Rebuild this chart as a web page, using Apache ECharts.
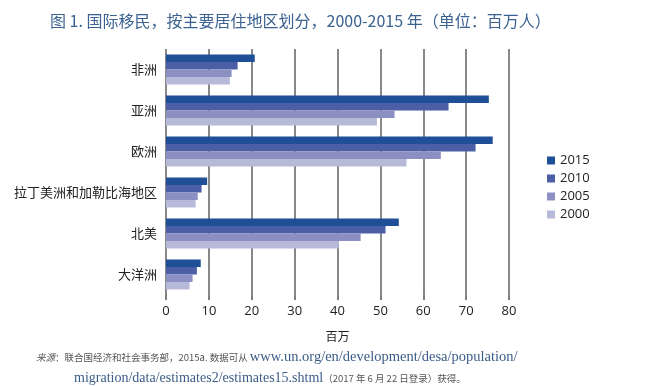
<!DOCTYPE html>
<html><head><meta charset="utf-8">
<script src="https://cdn.jsdelivr.net/npm/echarts@6/dist/echarts.min.js"></script>
<style>html,body{margin:0;padding:0;background:#fff}#c{width:663px;height:386px}</style>
</head><body><div id="c"></div>
<script>
const categories = ['非洲','亚洲','欧洲','拉丁美洲和加勒比海地区','北美','大洋洲'];
const years = ['2015','2010','2005','2000'];
const v2015 = [20.7, 75.3, 76.2, 9.6, 54.3, 8.1];
const v2010 = [16.7, 65.9, 72.2, 8.3, 51.2, 7.2];
const v2005 = [15.3, 53.3, 64.1, 7.4, 45.4, 6.2];
const v2000 = [14.9, 49.2, 56.1, 6.9, 40.3, 5.5];
const xTicks = [0,10,20,30,40,50,60,70,80];
const colors = ['#1f4f96','#4b5ea6','#8c8fc2','#b7b9d9'];
const values = [v2015, v2010, v2005, v2000];

const chart = echarts.init(document.getElementById('c'));
chart.setOption({
  animation: false,
  backgroundColor: '#fff',
  title: {
    text: '图 1. 国际移民，按主要居住地区划分，2000-2015 年（单位：百万人）',
    left: 45, top: 8,
    textStyle: {color: '#3b6290', fontSize: 16, fontWeight: 'normal', fontFamily: 'Noto Sans CJK SC'}
  },
  legend: {
    orient: 'vertical', left: 542, top: 149,
    itemWidth: 8, itemHeight: 8, itemGap: 5,
    icon: 'rect',
    textStyle: {fontSize: 13, color: '#222', fontFamily: 'Open Sans'},
    data: years
  },
  grid: {left: 166, right: 154, top: 49, bottom: 91, containLabel: false},
  xAxis: {
    type: 'value', min: xTicks[0], max: xTicks[xTicks.length-1], interval: 10,
    name: '百万', nameLocation: 'middle', nameGap: 35,
    nameTextStyle: {fontSize: 12, color: '#222', fontFamily: 'Noto Sans CJK SC'},
    axisLine: {show: false},
    axisTick: {show: true, length: 5, lineStyle: {color: '#555', width: 1.5}},
    axisLabel: {fontSize: 13, color: '#222', margin: 10, fontFamily: 'Open Sans'},
    splitLine: {show: true, lineStyle: {color: '#606060', width: 1.5}}
  },
  yAxis: {
    type: 'category', data: categories, inverse: true,
    axisLine: {show: false}, axisTick: {show: false},
    axisLabel: {fontSize: 13, color: '#222', margin: 9, fontFamily: 'Noto Sans CJK SC'}
  },
  series: years.map((y, i) => ({
    name: y, type: 'bar', data: values[i],
    itemStyle: {color: colors[i]},
    barGap: '0%', barCategoryGap: '27%'
  })),
  graphic: [
    {type: 'text', left: 36, top: 350, style: {
      rich: {
        a: {fontSize: 9.5, fontStyle: 'italic', fill: '#555', fontFamily: 'Noto Sans CJK SC'},
        b: {fontSize: 9.5, fill: '#555', fontFamily: 'Noto Sans CJK SC'},
        u: {fontSize: 14.5, fill: '#3b5c86', fontFamily: 'Liberation Serif'}
      },
      text: '{a|来源}{b|：联合国经济和社会事务部，2015a. 数据可从 }{u|www.un.org/en/development/desa/population/}'
    }},
    {type: 'text', left: 74, top: 371, style: {
      rich: {
        b: {fontSize: 9.5, fill: '#555', fontFamily: 'Noto Sans CJK SC'},
        u: {fontSize: 14, fill: '#3b5c86', fontFamily: 'Liberation Serif'}
      },
      text: '{u|migration/data/estimates2/estimates15.shtml}{b|（2017 年 6 月 22 日登录）获得。}'
    }}
  ]
});
</script></body></html>
